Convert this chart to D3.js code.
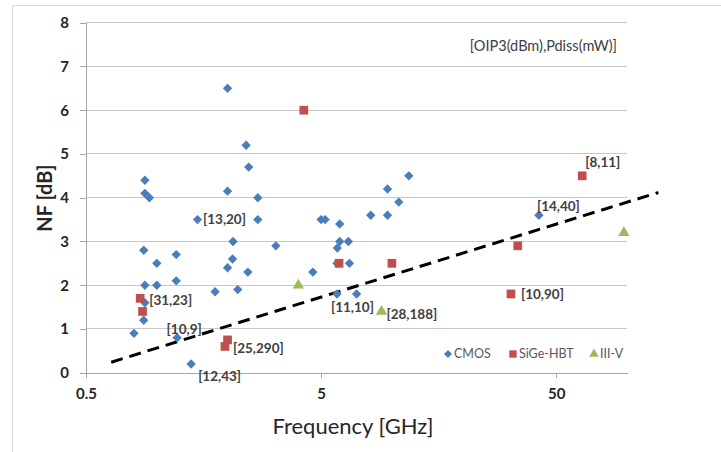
<!DOCTYPE html>
<meta charset="utf-8">
<style>

body {
  margin: 0;
  background: #fff;
}

text {
  font-family: Lato, "Open Sans", sans-serif;
}

.axis text {
  font-size: 15px;
  font-weight: bold;
  fill: #262626;
}

.axis path,
.axis line {
  fill: none;
  stroke: #a6a6a6;
  shape-rendering: crispEdges;
}

.grid line {
  stroke: #c8c8c8;
  shape-rendering: crispEdges;
}

.label {
  font-size: 13.5px;
  font-weight: bold;
  fill: #404040;
}

.legend text {
  font-size: 12.5px;
  fill: #595959;
}

.trend {
  fill: none;
  stroke: #000;
  stroke-width: 3px;
  stroke-dasharray: 12,7;
}

</style>
<body>
<script src="https://d3js.org/d3.v7.min.js"></script>
<script>

// values
var cmosFreq = [2.0, 2.4, 2.46, 2.0, 2.69, 0.89, 0.89, 0.93, 1.49, 2.69, 5.0, 5.2, 6.0,
                0.88, 1.0, 1.21, 0.89, 1.0, 1.21, 0.89, 0.88, 0.80, 1.22, 1.40, 1.77,
                2.0, 2.1, 2.11, 2.21, 2.44, 3.21, 4.61, 6.0, 6.53, 5.86, 6.6, 5.84,
                5.84, 7.08, 8.13, 9.58, 11.8, 9.58, 10.7, 42.2];
var cmosNF   = [6.5, 5.2, 4.7, 4.15, 4.0, 4.4, 4.1, 4.0, 3.5, 3.5, 3.5, 3.5, 3.4,
                2.8, 2.5, 2.7, 2.0, 2.0, 2.1, 1.6, 1.2, 0.9, 0.8, 0.2, 1.85,
                2.4, 2.6, 3.0, 1.9, 2.3, 2.9, 2.3, 3.0, 3.0, 2.85, 2.5, 2.5,
                1.8, 1.8, 3.6, 3.6, 4.5, 4.2, 3.9, 3.6];

var sigeFreq = [4.22, 0.85, 0.87, 2.0, 1.95, 5.96, 10.0, 34.3, 32.1, 64.5];
var sigeNF   = [6.0, 1.7, 1.4, 0.75, 0.6, 2.5, 2.5, 2.9, 1.8, 4.5];

var iiivFreq = [4.0, 9.03, 97];
var iiivNF   = [2.0, 1.4, 3.2];

var trendFreq = [0.64, 136];
var trendNF   = [0.24, 4.12];

var seriesNames = ["CMOS", "SiGe-HBT", "III-V"];

// [OIP3, Pdiss] annotations and the point each one belongs to
var labelText = ["[13,20]", "[31,23]", "[10,9]", "[25,290]", "[12,43]",
                 "[11,10]", "[28,188]", "[10,90]", "[14,40]", "[8,11]"];
var labelFreq = [1.49, 0.85, 1.22, 1.95, 1.40, 5.84, 9.03, 32.1, 42.2, 64.5];
var labelNF   = [3.5, 1.7, 0.8, 0.6, 0.2, 1.8, 1.4, 1.8, 3.6, 4.5];

var xTicks = [0.5, 5, 50];
var yTicks = [0, 1, 2, 3, 4, 5, 6, 7, 8];

var width = 721, height = 452;

var x = d3.scaleLog()
    .domain([0.5, 100])
    .range([86, 627]);

var y = d3.scaleLinear()
    .domain([0, 8])
    .range([372.7, 22.7]);

var colors = ["#4a7ebb", "#c0504d", "#9bbb59"];

var svg = d3.select("body").append("svg")
    .attr("width", width)
    .attr("height", height);

svg.append("rect")
    .attr("x", 12.5)
    .attr("y", 5.5)
    .attr("width", 720)
    .attr("height", 460)
    .attr("fill", "#fff")
    .attr("stroke", "#d9d9d9");

svg.append("g")
    .attr("class", "grid")
  .selectAll("line")
  .data(yTicks.slice(1))
  .enter().append("line")
    .attr("x1", x.range()[0])
    .attr("x2", x.range()[1])
    .attr("y1", function(d) { return y(d); })
    .attr("y2", function(d) { return y(d); });

svg.append("g")
    .attr("class", "axis axis--x")
    .attr("transform", "translate(0," + y(0) + ")")
    .call(d3.axisBottom(x).tickValues(xTicks).tickFormat(d3.format("")).tickSize(5).tickSizeOuter(0).tickPadding(11));

svg.append("g")
    .attr("class", "axis axis--y")
    .attr("transform", "translate(" + x.range()[0] + ",0)")
    .call(d3.axisLeft(y).tickValues(yTicks).tickSize(6).tickSizeOuter(0).tickPadding(11));

svg.append("text")
    .attr("transform", "translate(45,198) rotate(-90)")
    .attr("text-anchor", "middle")
    .attr("dy", ".35em")
    .style("font-size", "20px")
    .style("font-weight", "bold")
    .style("fill", "#262626")
    .text("NF [dB]");

svg.append("text")
    .attr("x", 353)
    .attr("y", 426)
    .attr("text-anchor", "middle")
    .attr("dy", ".35em")
    .style("font-size", "22px")
    .style("fill", "#262626")
    .text("Frequency [GHz]");

svg.append("text")
    .attr("x", 617)
    .attr("y", 46)
    .attr("text-anchor", "end")
    .attr("dy", ".35em")
    .style("font-size", "14.5px")
    .style("fill", "#404040")
    .text("[OIP3(dBm),Pdiss(mW)]");

// trend line
svg.append("path")
    .datum(d3.zip(trendFreq, trendNF))
    .attr("class", "trend")
    .attr("d", d3.line()
        .x(function(d) { return x(d[0]); })
        .y(function(d) { return y(d[1]); }));

var shapes = [
  d3.symbol().type(d3.symbolDiamond2).size(56),
  d3.symbol().type(d3.symbolSquare).size(76),
  d3.symbol().type(d3.symbolTriangle).size(56)
];

var series = [
  d3.zip(cmosFreq, cmosNF),
  d3.zip(sigeFreq, sigeNF),
  d3.zip(iiivFreq, iiivNF)
];

series.forEach(function(data, i) {
  svg.append("g")
    .selectAll("path")
    .data(data)
    .enter().append("path")
      .attr("transform", function(d) { return "translate(" + x(d[0]) + "," + y(d[1]) + ")"; })
      .attr("d", shapes[i])
      .attr("fill", colors[i]);
});

// label offsets relative to their points
var labelDx = [5.5, 9, -10.5, 8, 7, -6, 5, 10, -2, 3];
var labelDy = [0, 2, -8.5, 2, 12, 13, 3, 0, -9, -14];

svg.append("g")
  .selectAll("text")
  .data(labelText)
  .enter().append("text")
    .attr("class", "label")
    .attr("x", function(d, i) { return x(labelFreq[i]) + labelDx[i]; })
    .attr("y", function(d, i) { return y(labelNF[i]) + labelDy[i]; })
    .attr("dy", ".35em")
    .text(function(d) { return d; });

// legend
var legendX = [448, 513, 594];
var legend = svg.append("g")
    .attr("class", "legend")
  .selectAll("g")
  .data(seriesNames)
  .enter().append("g")
    .attr("transform", function(d, i) { return "translate(" + legendX[i] + ",354)"; });

legend.append("path")
    .attr("d", function(d, i) { return shapes[i](); })
    .attr("transform", "scale(0.85)")
    .attr("fill", function(d, i) { return colors[i]; });

legend.append("text")
    .attr("x", 6)
    .attr("dy", ".35em")
    .text(function(d) { return d; });

</script>
